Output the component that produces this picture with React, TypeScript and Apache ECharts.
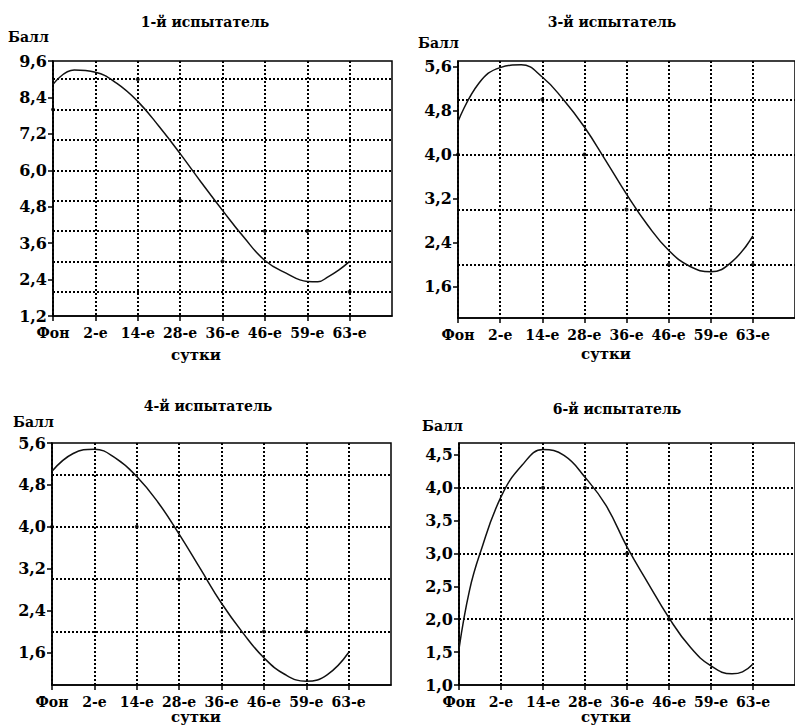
import React, { useEffect, useRef } from 'react';
import * as echarts from 'echarts';

// ---------- data ----------
const xLabels = ['Фон', '2-е', '14-е', '28-е', '36-е', '46-е', '59-е', '63-е'];
const xSlots = [0, 1, 2, 3, 4, 5, 6, 7];
const curveX = [0, 0.5, 1, 1.5, 2, 2.5, 3, 3.5, 4, 4.5, 5, 5.5, 6, 6.5, 7];
const curveX1 = [0, 0.5, 1, 1.5, 2, 2.5, 3, 3.5, 4, 4.5, 5, 5.5, 6, 6.25, 6.5, 6.75, 7];
const curveX6 = [0, 0.25, 0.5, 1, 1.5, 2, 2.5, 3, 3.5, 4, 4.5, 5, 5.5, 6, 6.5, 6.75, 7];

const titles = ['1-й испытатель', '3-й испытатель', '4-й испытатель', '6-й испытатель'];
const yName = 'Балл';
const xName = 'сутки';

// smoothed trend curves
const curve1 = [8.83, 9.3, 9.23, 8.87, 8.27, 7.45, 6.55, 5.6, 4.68, 3.8, 3.03, 2.61, 2.34, 2.33, 2.5, 2.72, 3.0];
const curve3 = [4.6, 5.3, 5.58, 5.63, 5.41, 5.0, 4.5, 3.9, 3.28, 2.72, 2.26, 1.97, 1.87, 2.05, 2.52];
const curve4 = [5.06, 5.4, 5.48, 5.31, 4.96, 4.47, 3.86, 3.2, 2.54, 1.98, 1.5, 1.18, 1.05, 1.18, 1.6];
const curve6 = [1.55, 2.44, 3.0, 3.86, 4.34, 4.58, 4.49, 4.16, 3.73, 3.1, 2.55, 2.02, 1.58, 1.29, 1.17, 1.2, 1.32];

// raw scores (small dots) per day
const raw1 = [8, null, 9, 5, 3, 4, 4, 2];
const raw3 = [4, null, 5, 4, 3, 2, 3, 2];
const raw4 = [4, null, 4, 3, 2, 2, 2, null];
const raw6 = [null, null, 4, 4, 3, 2, 2, null];

// y axes
const yRange1 = [1.2, 9.6];
const yRange3 = [1.03, 5.7];
const yRange4 = [0.98, 5.6];
const yRange6 = [1.0, 4.68];
const yTicks1 = [1.2, 2.4, 3.6, 4.8, 6.0, 7.2, 8.4, 9.6];
const yTicks3 = [1.6, 2.4, 3.2, 4.0, 4.8, 5.6];
const yTicks4 = [1.6, 2.4, 3.2, 4.0, 4.8, 5.6];
const yTicks6 = [1.0, 1.5, 2.0, 2.5, 3.0, 3.5, 4.0, 4.5];
const yGrid1 = [2, 3, 4, 5, 6, 7, 8, 9];
const yGrid3 = [2, 3, 4, 5];
const yGrid4 = [2, 3, 4, 5];
const yGrid6 = [2, 3, 4];

// ---------- layout ----------
const layout = [
  { grid: { left: 53, top: 61, width: 339, height: 255 }, title: [205, 22], yname: [8, 37], xname: [196, 355] },
  { grid: { left: 458, top: 61, width: 339, height: 257 }, title: [612, 22], yname: [418, 43], xname: [606, 354] },
  { grid: { left: 52, top: 443, width: 339, height: 242 }, title: [208, 406], yname: [13, 422], xname: [196, 717] },
  { grid: { left: 459, top: 443, width: 338, height: 242 }, title: [617, 409], yname: [422, 426], xname: [606, 717] },
];

const FONT = 'DejaVu Serif';
const BLACK = '#000';

const panels = [
  { x: curveX1, curve: curve1, raw: raw1, range: yRange1, ticks: yTicks1, grid: yGrid1 },
  { x: curveX, curve: curve3, raw: raw3, range: yRange3, ticks: yTicks3, grid: yGrid3 },
  { x: curveX, curve: curve4, raw: raw4, range: yRange4, ticks: yTicks4, grid: yGrid4 },
  { x: curveX6, curve: curve6, raw: raw6, range: yRange6, ticks: yTicks6, grid: yGrid6 },
];

function buildOption() {
  const grid: any[] = [];
  const xAxis: any[] = [];
  const yAxis: any[] = [];
  const series: any[] = [];
  const graphic: any[] = [];

  panels.forEach((p, i) => {
    const L = layout[i];
    grid.push({
      ...L.grid,
      show: true,
      borderColor: BLACK,
      borderWidth: 1.5,
      backgroundColor: 'transparent',
      containLabel: false,
    });
    xAxis.push({
      type: 'value',
      gridIndex: i,
      min: 0,
      max: 8,
      interval: 1,
      axisLine: { show: true, onZero: false, lineStyle: { color: BLACK, width: 1.5 } },
      axisTick: { show: true, length: 5, inside: false, customValues: xSlots, lineStyle: { color: BLACK, width: 1.5 } },
      axisLabel: {
        show: true,
        margin: 10,
        customValues: xSlots,
        formatter: (v: number) => xLabels[Math.round(v)] ?? '',
        color: BLACK,
        fontFamily: FONT,
        fontWeight: 'bold',
        fontSize: 14,
      },
      splitLine: { show: true, lineStyle: { color: BLACK, width: 2, type: [2, 2] } },
    });
    yAxis.push({
      type: 'value',
      gridIndex: i,
      min: p.range[0],
      max: p.range[1],
      axisLine: { show: true, onZero: false, lineStyle: { color: BLACK, width: 1.5 } },
      axisTick: { show: true, length: 5, customValues: p.ticks, lineStyle: { color: BLACK, width: 1.5 } },
      axisLabel: {
        show: true,
        margin: 6,
        customValues: p.ticks,
        formatter: (v: number) => v.toFixed(1).replace('.', ','),
        color: BLACK,
        fontFamily: FONT,
        fontWeight: 'bold',
        fontSize: 16,
      },
      splitLine: { show: false },
    });
    series.push({
      type: 'line',
      xAxisIndex: i,
      yAxisIndex: i,
      data: p.x.map((x, k) => [x, p.curve[k]]),
      smooth: 0.45,
      showSymbol: false,
      symbol: 'none',
      lineStyle: { color: '#111', width: 1.5 },
      z: 5,
      markLine: {
        silent: true,
        symbol: ['none', 'none'],
        label: { show: false },
        lineStyle: { color: BLACK, width: 2, type: [2, 2] },
        data: p.grid.map((v) => ({ yAxis: v })),
        animation: false,
      },
    });
    series.push({
      type: 'scatter',
      xAxisIndex: i,
      yAxisIndex: i,
      data: p.raw.map((v, k) => (v == null ? null : [xSlots[k], v])).filter((d) => d),
      symbol: 'circle',
      symbolSize: 4,
      itemStyle: { color: BLACK },
      z: 4,
    });

    const txt = (x: number, y: number, text: string, size: number, align: string) => ({
      type: 'text',
      x,
      y,
      style: {
        text,
        fill: BLACK,
        fontFamily: FONT,
        fontWeight: 'bold',
        fontSize: size,
        align,
        verticalAlign: 'middle',
      },
    });
    graphic.push(txt(L.title[0], L.title[1], titles[i], 14, 'center'));
    graphic.push(txt(L.yname[0], L.yname[1], yName, 14, 'left'));
    graphic.push(txt(L.xname[0], L.xname[1], xName, 15, 'center'));
  });

  return {
    animation: false,
    backgroundColor: '#fff',
    textStyle: { fontFamily: FONT },
    grid,
    xAxis,
    yAxis,
    series,
    graphic,
  };
}

export default function App() {
  const ref = useRef<HTMLDivElement>(null);
  useEffect(() => {
    if (!ref.current) return;
    const chart = echarts.init(ref.current, undefined, { renderer: 'svg' });
    chart.setOption(buildOption() as any);
    return () => chart.dispose();
  }, []);
  return (
    <div
      ref={ref}
      style={{ position: 'absolute', left: 0, top: 0, width: 795, height: 727, background: '#fff' }}
    />
  );
}
